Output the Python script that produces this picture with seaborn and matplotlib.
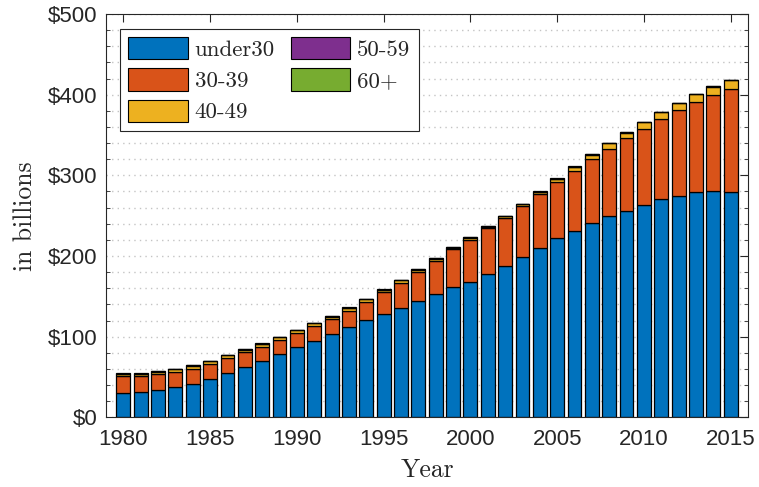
import matplotlib
matplotlib.use("Agg")
import matplotlib.pyplot as plt
from matplotlib.patches import Patch
import numpy as np
import pandas as pd
import seaborn as sns

# Outstanding balances by age group of borrower, in billions of dollars
years = list(range(1980, 2016))
under30 = [30.6, 31.9, 34.4, 37.3, 41.8, 47.6, 55.0, 62.1, 69.5, 78.2,
           86.9, 95.1, 103.0, 112.1, 120.8, 128.2, 136.1, 144.4, 152.6, 161.3,
           168.3, 177.9, 187.4, 199.1, 209.8, 222.1, 231.6, 240.9, 249.2, 256.4,
           263.2, 270.4, 275.0, 279.3, 280.4, 279.5]
age30_39 = [20.7, 19.0, 19.0, 18.6, 18.6, 19.0, 18.6, 18.6, 18.2, 18.2,
            17.8, 17.8, 19.0, 20.2, 22.7, 27.3, 31.0, 36.3, 41.8, 47.2,
            52.1, 56.6, 59.5, 62.5, 67.0, 69.9, 74.4, 79.1, 84.0, 89.4,
            94.8, 99.4, 105.7, 111.5, 118.7, 127.3]
age40_49 = [2.5, 2.9, 3.3, 3.7, 3.7, 2.9, 3.4, 3.3, 3.3, 2.9,
            3.3, 3.8, 2.9, 3.4, 3.0, 2.5, 2.9, 2.5, 2.1, 2.0,
            2.1, 2.1, 2.1, 2.5, 2.5, 3.4, 4.5, 5.5, 6.4, 7.2,
            8.0, 8.5, 8.7, 9.6, 10.9, 10.9]
age50_59 = [0.6, 0.6, 0.5, 0.5, 0.5, 0.5, 0.5, 0.5, 0.5, 0.5,
            0.5, 0.5, 0.5, 0.5, 0.4, 0.4, 0.4, 0.4, 0.5, 0.5,
            0.5, 0.5, 0.5, 0.5, 0.5, 0.5, 0.4, 0.4, 0.5, 0.4,
            0.4, 0.4, 0.5, 0.4, 0.4, 0.4]
age60_plus = [0.4, 0.4, 0.3, 0.3, 0.3, 0.3, 0.3, 0.3, 0.3, 0.3,
              0.3, 0.3, 0.3, 0.3, 0.3, 0.3, 0.3, 0.3, 0.3, 0.3,
              0.3, 0.3, 0.3, 0.3, 0.3, 0.3, 0.3, 0.3, 0.3, 0.3,
              0.3, 0.3, 0.3, 0.3, 0.3, 0.3]

groups = ["under30", "30-39", "40-49", "50-59", "60+"]
colors = ["#0072BD", "#D95319", "#EDB120", "#7E2F8E", "#77AC30"]

y_ticks = [0, 100, 200, 300, 400, 500]
y_tick_labels = ["$0", "$100", "$200", "$300", "$400", "$500"]
x_ticks = [1980, 1985, 1990, 1995, 2000, 2005, 2010, 2015]
x_tick_labels = ["1980", "1985", "1990", "1995", "2000", "2005", "2010", "2015"]

series = [under30, age30_39, age40_49, age50_59, age60_plus]
df = pd.concat(
    [pd.DataFrame({"year": years, "group": g, "value": v}) for g, v in zip(groups, series)],
    ignore_index=True,
)

sns.set_theme(style="white")
plt.rcParams["font.family"] = ["Liberation Sans", "DejaVu Sans"]
serif = ["cmr10", "DejaVu Serif"]
ink = "#262626"

fig = plt.figure(figsize=(7.59, 4.87), dpi=100)
ax = fig.add_axes([0.1397, 0.1429, 0.8458, 0.8284])

# seaborn stacks the last hue level at the bottom, so pass the order reversed
sns.histplot(
    data=df, x="year", weights="value", hue="group",
    hue_order=groups[::-1], palette=dict(zip(groups, colors)),
    multiple="stack", discrete=True, shrink=0.8,
    edgecolor="black", linewidth=0.9, alpha=1.0,
    legend=False, ax=ax,
)

ax.set_xlim(1979, 2016)
ax.set_ylim(0, 500)
ax.set_xticks(x_ticks, x_tick_labels)
ax.set_yticks(y_ticks, [s.replace("$", r"\$") for s in y_tick_labels])
ax.set_yticks(np.arange(0, 501, 20), minor=True)

ax.grid(axis="y", which="both", color="#c4c4c4", linestyle=(0, (1, 3)), linewidth=1.0)
ax.grid(axis="x", visible=False)
ax.set_axisbelow(True)

for sp in ax.spines.values():
    sp.set_visible(True)
    sp.set_color(ink)
    sp.set_linewidth(0.8)

ax.tick_params(axis="both", which="major", direction="in", length=6, width=0.8,
               color=ink, labelcolor=ink, labelsize=16, top=True, right=True)
ax.tick_params(axis="x", which="major", pad=8)
ax.tick_params(axis="y", which="major", pad=6)
ax.tick_params(axis="y", which="minor", direction="in", length=3, width=0.6,
               color=ink, left=True, right=True)
ax.tick_params(axis="x", which="minor", bottom=False, top=False)

ax.set_xlabel("Year", fontfamily=serif, fontsize=18.5, color=ink, labelpad=6)
ax.set_ylabel("in billions", fontfamily=serif, fontsize=18.5, color=ink, labelpad=8)

handles = [Patch(facecolor=c, edgecolor="black", linewidth=0.8) for c in colors]
leg = ax.legend(
    handles, groups, ncol=2, loc="upper left", bbox_to_anchor=(0.0218, 0.963),
    borderaxespad=0, frameon=True, fancybox=False, framealpha=1,
    edgecolor=ink, prop={"family": serif, "size": 16.5},
    handlelength=2.6, handleheight=1.12, labelspacing=0.36,
    handletextpad=0.3, columnspacing=0.7, borderpad=0.36,
)
leg.get_frame().set_linewidth(0.8)
for t in leg.get_texts():
    t.set_color(ink)

fig.savefig("out.png", dpi=100)
